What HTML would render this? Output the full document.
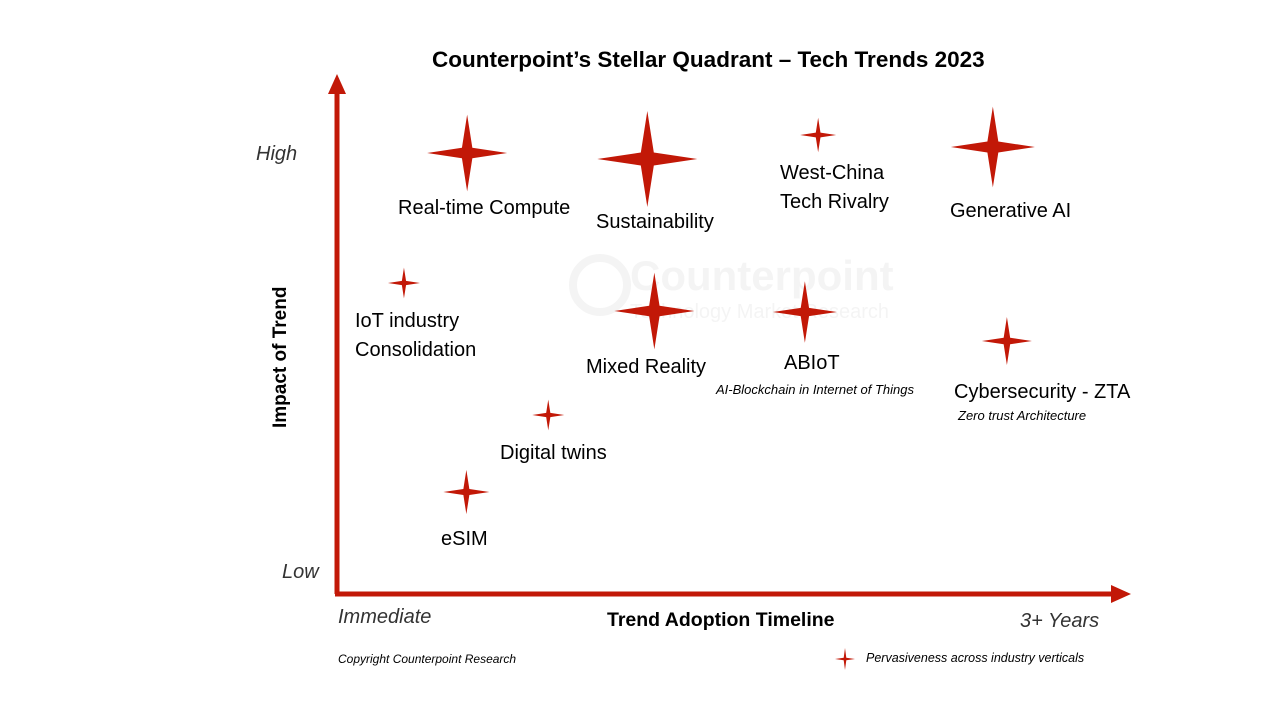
<!DOCTYPE html>
<html><head><meta charset="utf-8"><style>
html,body{margin:0;padding:0;background:#fff}
#wrap{position:relative;width:1280px;height:720px;overflow:hidden;font-family:"Liberation Sans",sans-serif;color:#000}
.t{position:absolute;white-space:nowrap;line-height:1.2}
.lab{font-size:20px;line-height:29px}
.it{font-style:italic}
</style></head><body>
<div id="wrap">
<svg id="svg" width="1280" height="720" style="position:absolute;left:0;top:0">
  <g opacity="0.06">
    <circle cx="600" cy="285" r="27" fill="none" stroke="#555" stroke-width="8"/>
    <text x="630" y="290" font-size="42" font-weight="bold" fill="#555" font-family="Liberation Sans">Counterpoint</text>
    <text x="630" y="318" font-size="20" fill="#555" font-family="Liberation Sans">Technology Market Research</text>
  </g>
  <g>
    <line x1="337" y1="594" x2="337" y2="90" stroke="#c21807" stroke-width="5"/>
    <polygon points="337,74 328,94 346,94" fill="#c21807"/>
  </g>
  <g>
    <line x1="335" y1="594" x2="1115" y2="594" stroke="#c21807" stroke-width="5"/>
    <polygon points="1131,594 1111,585 1111,603" fill="#c21807"/>
  </g>
  <g id="stars"></g>
  <path fill="#c21807" d="M845,648 L846.3,657.7 L855,659 L846.3,660.3 L845,670 L843.7,660.3 L835,659 L843.7,657.7 Z"/>
</svg>
<div class="t" style="left:432px;top:46px;font-size:22.5px;font-weight:bold">Counterpoint’s Stellar Quadrant – Tech Trends 2023</div>
<div class="t" style="left:270px;top:428px;font-size:19px;font-weight:bold;transform:rotate(-90deg);transform-origin:0 0">Impact of Trend</div>
<div class="t it" style="left:256px;top:142px;font-size:20px;color:#333">High</div>
<div class="t it" style="left:282px;top:560px;font-size:20px;color:#333">Low</div>
<div class="t it" style="left:338px;top:605px;font-size:20px;color:#333">Immediate</div>
<div class="t" style="left:607px;top:609px;font-size:19.5px;font-weight:bold">Trend Adoption Timeline</div>
<div class="t it" style="left:1020px;top:609px;font-size:20px;color:#333">3+ Years</div>
<div class="t it" style="left:338px;top:652px;font-size:12px">Copyright  Counterpoint  Research</div>
<div class="t it" style="left:866px;top:651px;font-size:12.5px">Pervasiveness across industry verticals</div>
<div id="labels"></div>
</div>
<script>
const names=["Real-time Compute","Sustainability","West-China<br>Tech Rivalry","Generative AI","IoT industry<br>Consolidation","Mixed Reality","ABIoT","Cybersecurity - ZTA","Digital twins","eSIM"];
const adoption=[1.63,3.94,6.13,8.37,0.82,4.03,5.96,8.55,2.67,1.62];
const impact=[8.74,8.62,9.1,8.86,6.14,5.58,5.56,4.98,3.5,1.96];
const pervasiveness=[40,50,18,42,16,40,32,25,16,23];
const labelPos=[[398,194],[596,208],[780,159],[950,197],[355,307],[586,353],[784,349],[954,378],[500,439],[441,525]];
const subLabels={6:["AI-Blockchain in Internet of Things",716,382],7:["Zero trust Architecture",958,408]};
function xs(v){return 340+v*78;}
function ys(v){return 590-v*50;}
const g=document.getElementById('stars');
const L=document.getElementById('labels');
for(let i=0;i<names.length;i++){
  const cx=xs(adoption[i]),cy=ys(impact[i]),s=pervasiveness[i],h=s*0.96,k=s*0.13;
  const p=document.createElementNS('http://www.w3.org/2000/svg','path');
  p.setAttribute('d',`M${cx},${cy-h} L${cx+k},${cy-k} L${cx+s},${cy} L${cx+k},${cy+k} L${cx},${cy+h} L${cx-k},${cy+k} L${cx-s},${cy} L${cx-k},${cy-k} Z`);
  p.setAttribute('fill','#c21807');
  
  
  g.appendChild(p);
  const d=document.createElement('div');
  d.className='t lab';
  d.style.left=labelPos[i][0]+'px';d.style.top=labelPos[i][1]+'px';
  d.innerHTML=names[i];
  
  
  L.appendChild(d);
  if(subLabels[i]){
    const e=document.createElement('div');
    e.className='t it';e.style.fontSize='13px';
    e.style.left=subLabels[i][1]+'px';e.style.top=subLabels[i][2]+'px';
    e.textContent=subLabels[i][0];
    
    
    L.appendChild(e);
  }
}
</script>
</body></html>
